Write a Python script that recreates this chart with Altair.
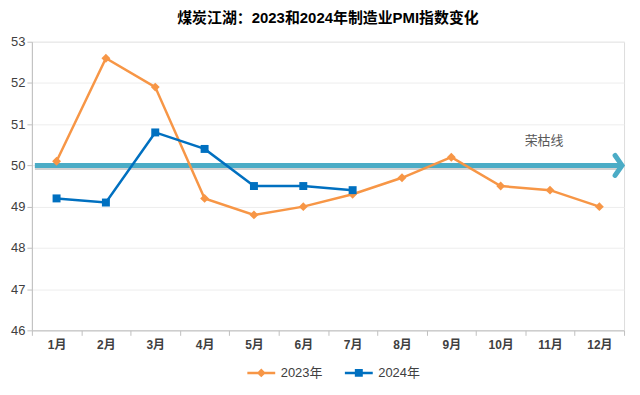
import altair as alt
import pandas as pd

months = ["1月", "2月", "3月", "4月", "5月", "6月", "7月", "8月", "9月", "10月", "11月", "12月"]
pmi_2023 = [50.1, 52.6, 51.9, 49.2, 48.8, 49.0, 49.3, 49.7, 50.2, 49.5, 49.4, 49.0]
pmi_2024 = [49.2, 49.1, 50.8, 50.4, 49.5, 49.5, 49.4]
series = ["2023年", "2024年"]
colors = ["#F79646", "#0070C0"]
threshold = 50
threshold_label = "荣枯线"
title_text = "煤炭江湖：2023和2024年制造业PMI指数变化"

rows = []
for m, v in zip(months, pmi_2023):
    rows.append({"month": m, "value": v, "year": series[0]})
for m, v in zip(months, pmi_2024):
    rows.append({"month": m, "value": v, "year": series[1]})
df = pd.DataFrame(rows)

W, H = 595, 290
FONT = "Liberation Sans, Noto Sans CJK SC"

x_enc = alt.X("month:N", sort=months, scale=alt.Scale(domain=months, paddingInner=0, paddingOuter=0),
              axis=alt.Axis(title=None, labelAngle=0, tickBand="extent", tickSize=5, labelPadding=4,
                            labelFontSize=12, labelColor="#404040", labelFontWeight="bold",
                            domainColor="#BFBFBF", tickColor="#BFBFBF", grid=False))
y_enc = alt.Y("value:Q", scale=alt.Scale(domain=[46, 53], nice=False, zero=False),
              axis=alt.Axis(title=None, values=list(range(46, 54)), tickSize=5, labelPadding=2,
                            labelFontSize=13, labelColor="#404040", domainColor="#BFBFBF",
                            tickColor="#BFBFBF", gridColor="#EDEDED", format="d"))
color_scale = alt.Scale(domain=series, range=colors)

# legend symbols: line + marker, drawn around a 10px symbol box (1 unit = 5px)
legend_paths = [
    "M-2.8,-0.25H2.8V0.25H-2.8Z M0,-0.9L0.9,0L0,0.9L-0.9,0Z",
    "M-2.8,-0.25H2.8V0.25H-2.8Z M-0.8,-0.8H0.8V0.8H-0.8Z",
]
leg = alt.Legend(title=None, orient="none", legendX=224, legendY=326, direction="horizontal",
                 labelFontSize=13, labelColor="#404040", symbolSize=100, symbolStrokeWidth=0,
                 columnPadding=22, labelOffset=13, labelFont=FONT)
color_enc = alt.Color("year:N", scale=color_scale, legend=leg)

base = alt.Chart(df)

lines = base.mark_line(strokeWidth=2.5).encode(x=x_enc, y=y_enc, color=color_enc)
pts_2023 = base.mark_point(filled=True, opacity=1, shape="diamond", size=80).encode(
    x=x_enc, y=y_enc, color=color_enc,
).transform_filter(alt.datum.year == series[0])
pts_2024 = base.mark_point(filled=True, opacity=1, shape="square", size=64).encode(
    x=x_enc, y=y_enc, color=color_enc,
).transform_filter(alt.datum.year == series[1])

legend_layer = base.mark_point(filled=True, opacity=1).encode(
    x=x_enc, y=y_enc,
    color=color_enc,
    shape=alt.Shape("year:N", scale=alt.Scale(domain=series, range=legend_paths), legend=leg),
).transform_filter("false")

thr_df = pd.DataFrame({"value": [threshold], "label": [threshold_label]})
thr = alt.Chart(thr_df)
shadow = thr.mark_rule(strokeWidth=5, color="#7F7F7F", opacity=0.35, yOffset=2).encode(
    y=alt.Y("value:Q"), x=alt.value(3), x2=alt.value(W - 5))
arrow = thr.mark_rule(strokeWidth=5, color="#4BACC6").encode(
    y=alt.Y("value:Q"), x=alt.value(3), x2=alt.value(W - 5))
head = thr.mark_point(shape="M-0.7,-1L0,0L-0.7,1", filled=False, strokeWidth=5, color="#4BACC6",
                      size=400, opacity=1, strokeCap="round", strokeJoin="miter").encode(
    y=alt.Y("value:Q"), x=alt.value(W - 2))
label = thr.mark_text(fontSize=13, color="#595959", font=FONT, dx=-6).encode(
    x=alt.X("m:N", sort=months), y=alt.Y("v:Q"), text="label:N"
).transform_calculate(m="'11月'", v="50.6")

chart = alt.layer(shadow, arrow, head, lines, pts_2023, pts_2024, legend_layer, label).properties(
    width=W, height=H,
    padding={"left": 2, "right": 0, "top": 2, "bottom": 0},
    title=alt.Title(title_text, fontSize=15, fontWeight="bold", color="#000000", font=FONT, offset=10),
).configure_view(stroke=None).configure(font=FONT)

chart.save("out.html", embed_options={"renderer": "svg", "actions": False})
